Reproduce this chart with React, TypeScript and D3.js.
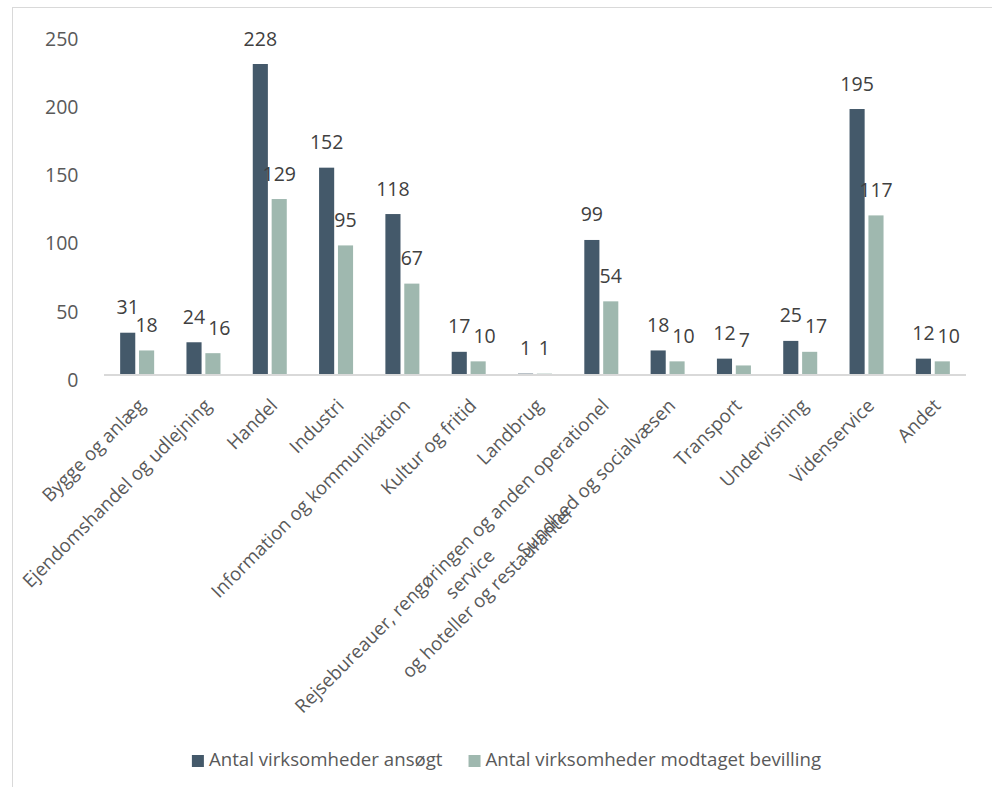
import React, { useEffect, useRef } from "react";
import * as d3 from "d3";

const categories = [
  "Bygge og anlæg",
  "Ejendomshandel og udlejning",
  "Handel",
  "Industri",
  "Information og kommunikation",
  "Kultur og fritid",
  "Landbrug",
  "Rejsebureauer, rengøringen og anden operationel\nservice\nog hoteller og restauranter",
  "Sundhed og socialvæsen",
  "Transport",
  "Undervisning",
  "Videnservice",
  "Andet",
];
const seriesNames = ["Antal virksomheder ansøgt", "Antal virksomheder modtaget bevilling"];
const ansoegt = [31, 24, 228, 152, 118, 17, 1, 99, 18, 12, 25, 195, 12];
const bevilling = [18, 16, 129, 95, 67, 10, 1, 54, 10, 7, 17, 117, 10];
const yTicks = [0, 50, 100, 150, 200, 250];
const seriesColors = ["#44596a", "#9fb8af"];

const W = 992;
const H = 787;
const FONT = '"Open Sans", sans-serif';
const FS = 18.67;
const NFS = 19.5;

export default function App() {
  const ref = useRef<SVGSVGElement>(null);

  useEffect(() => {
    const svg = d3.select(ref.current);
    svg.selectAll("*").remove();

    svg
      .append("rect")
      .attr("x", 12.5)
      .attr("y", 7.5)
      .attr("width", 1000)
      .attr("height", 800)
      .attr("fill", "#ffffff")
      .attr("stroke", "#d9d9d9")
      .attr("stroke-width", 1);

    const x0 = d3.scaleBand<string>().domain(categories).range([104, 966]);
    const x1 = d3.scaleBand<string>().domain(seriesNames).range([-17, 17]).paddingInner(0.2);
    const y = d3.scaleLinear().domain([0, 250]).range([375, 34]);
    const color = d3.scaleOrdinal<string, string>().domain(seriesNames).range(seriesColors);

    // y tick labels
    svg
      .append("g")
      .selectAll("text")
      .data(yTicks)
      .join("text")
      .attr("x", 78.5)
      .attr("y", (d) => y(d) + 11.8)
      .attr("text-anchor", "end")
      .attr("font-family", FONT)
      .attr("font-size", NFS)
      .attr("fill", "#595959")
      .text((d) => d3.format("d")(d));

    const data = categories.map((c, i) => ({
      c,
      values: [
        { s: seriesNames[0], v: ansoegt[i] },
        { s: seriesNames[1], v: bevilling[i] },
      ],
    }));

    // bars
    const groups = svg
      .append("g")
      .selectAll("g")
      .data(data)
      .join("g")
      .attr("transform", (d) => `translate(${x0(d.c)! + x0.bandwidth() / 2},0)`);

    groups
      .selectAll("rect")
      .data((d) => d.values)
      .join("rect")
      .attr("x", (d) => x1(d.s)!)
      .attr("width", x1.bandwidth())
      .attr("y", (d) => y(d.v))
      .attr("height", (d) => y(0) - y(d.v))
      .attr("fill", (d) => color(d.s));

    // axis line
    svg
      .append("line")
      .attr("x1", 104)
      .attr("x2", 966)
      .attr("y1", 375)
      .attr("y2", 375)
      .attr("stroke", "#d9d9d9")
      .attr("stroke-width", 2);

    // data labels with simple collision avoidance
    const labelG = svg.append("g");
    data.forEach((d) => {
      const cx = x0(d.c)! + x0.bandwidth() / 2;
      const nodes = d.values.map((v) => {
        const t = labelG
          .append("text")
          .attr("text-anchor", "middle")
          .attr("font-family", FONT)
          .attr("font-size", NFS)
          .attr("fill", "#404040")
          .text(String(v.v));
        const bx = cx + x1(v.s)! + x1.bandwidth() / 2;
        const by = y(v.v) - 18.5;
        const w = (t.node() as SVGTextElement).getComputedTextLength();
        return { t, bx, by, w };
      });
      const [a, b] = nodes;
      if (Math.abs(a.by - b.by) < 13.5) {
        const aRight = a.bx + a.w / 2;
        const bLeft = b.bx - b.w / 2;
        if (bLeft < aRight + 3) b.bx += aRight + 3 - bLeft;
      }
      nodes.forEach((n) => n.t.attr("x", n.bx).attr("y", n.by));
    });

    // category labels
    const catG = svg.append("g");
    categories.forEach((c) => {
      const cx = x0(c)! + x0.bandwidth() / 2;
      const g = catG.append("g").attr("transform", `translate(${cx - 1},397) rotate(-45)`);
      const lines = c.split("\n");
      const texts = lines.map((ln) =>
        g
          .append("text")
          .attr("font-family", FONT)
          .attr("font-size", FS)
          .attr("fill", "#595959")
          .attr("text-anchor", "middle")
          .text(ln)
      );
      const widths = texts.map((t) => (t.node() as SVGTextElement).getComputedTextLength());
      const maxW = d3.max(widths) || 0;
      texts.forEach((t, i) => t.attr("x", -maxW / 2).attr("y", 14 + i * 25.4));
    });

    // legend
    const leg = svg.append("g");
    const legTexts = seriesNames.map((s) =>
      leg
        .append("text")
        .attr("font-family", FONT)
        .attr("font-size", FS)
        .attr("fill", "#595959")
        .attr("y", 765.6)
        .text(s)
    );
    const lw = legTexts.map((t) => (t.node() as SVGTextElement).getComputedTextLength());
    const total = 12 + 5 + lw[0] + 26 + 12 + 5 + lw[1];
    let lx = 506.5 - total / 2;
    seriesNames.forEach((s, i) => {
      leg.append("rect").attr("x", lx).attr("y", 755).attr("width", 12).attr("height", 12).attr("fill", color(s));
      legTexts[i].attr("x", lx + 17);
      lx += 12 + 5 + lw[i] + 26;
    });
  }, []);

  return (
    <div style={{ position: "absolute", left: 0, top: 0, width: W, height: H, background: "#fff" }}>
      <svg ref={ref} width={W} height={H} style={{ display: "block" }} />
    </div>
  );
}
